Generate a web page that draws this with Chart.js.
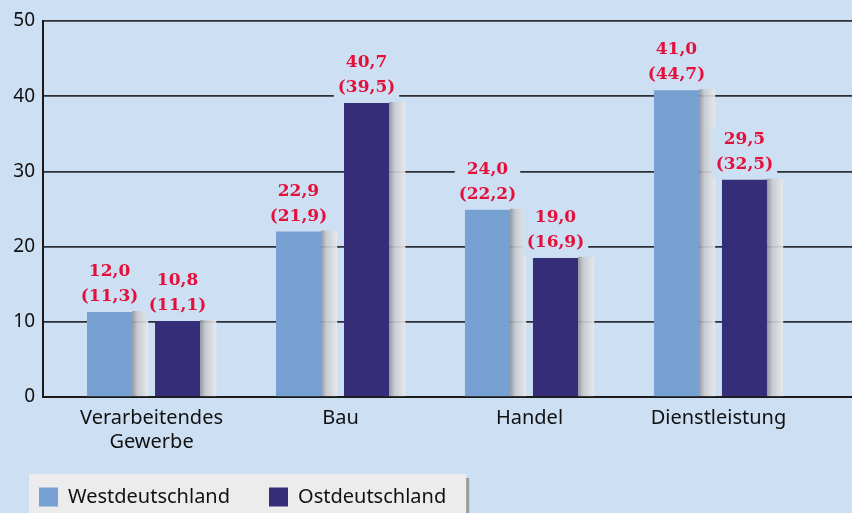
<!DOCTYPE html>
<html>
<head>
<meta charset="utf-8">
<script src="https://cdn.jsdelivr.net/npm/chart.js@4/dist/chart.umd.min.js"></script>
<style>
  html, body { margin: 0; padding: 0; background: #cddff3; }
  #wrap { width: 852px; height: 513px; }
</style>
</head>
<body>
<div id="wrap"><canvas id="c" width="852" height="513"></canvas></div>
<script>
// Daten
const categories = [['Verarbeitendes', 'Gewerbe'], 'Bau', 'Handel', 'Dienstleistung'];
const seriesNames = ['Westdeutschland', 'Ostdeutschland'];
const westValues = [11.3, 22.0, 24.9, 40.8];
const ostValues = [10.1, 39.1, 18.5, 28.9];
const westLabels = ['12,0', '22,9', '24,0', '41,0'];
const westLabelsPrev = ['(11,3)', '(21,9)', '(22,2)', '(44,7)'];
const ostLabels = ['10,8', '40,7', '19,0', '29,5'];
const ostLabelsPrev = ['(11,1)', '(39,5)', '(16,9)', '(32,5)'];
const yTicks = [0, 10, 20, 30, 40, 50];

const BG = '#cddff3';
const RED = '#e2103a';
const SANS = '"Noto Sans", "DejaVu Sans", sans-serif';
const SERIF = '"DejaVu Serif", "Liberation Serif", serif';

const toPoints = (vals) => vals.map((v, i) => ({ x: i, y: v }));

// Legende etwas hoeher setzen (eigener Abstand im Original)
const legendShiftPlugin = {
  id: 'legendShift',
  afterLayout(chart) {
    if (chart.legend) {
      chart.legend.top -= 7;
      chart.legend.bottom -= 7;
    }
  }
};

// Hintergrund + Legendenkasten
const backgroundPlugin = {
  id: 'background',
  beforeDraw(chart) {
    const ctx = chart.ctx;
    ctx.save();
    ctx.fillStyle = BG;
    ctx.fillRect(0, 0, chart.width, chart.height);
    const boxes = chart.legend && chart.legend.legendHitBoxes;
    if (boxes && boxes.length) {
      const first = boxes[0];
      const last = boxes[boxes.length - 1];
      const left = first.left - 10;
      const right = last.left + last.width + 20;
      const top = first.top - 13;
      ctx.fillStyle = '#ececec';
      ctx.fillRect(left, top, right - left, chart.height - top);
      ctx.fillStyle = '#9a9a9a';
      ctx.fillRect(right, top + 4, 3, chart.height - top);
    }
    ctx.restore();
  }
};

// 3D-Schatten rechts der Balken und Wertebeschriftung
const barDecorPlugin = {
  id: 'barDecor',
  afterDatasetsDraw(chart) {
    const ctx = chart.ctx;
    ctx.save();
    chart.data.datasets.forEach((ds, di) => {
      const meta = chart.getDatasetMeta(di);
      meta.data.forEach((bar) => {
        const right = bar.x + bar.width / 2;
        const w = bar.width * 0.36;
        const g = ctx.createLinearGradient(right, 0, right + w, 0);
        g.addColorStop(0, 'rgba(140,145,154,0.9)');
        g.addColorStop(0.35, 'rgba(200,203,208,0.9)');
        g.addColorStop(1, 'rgba(232,233,235,0.9)');
        ctx.fillStyle = g;
        ctx.fillRect(right, bar.y - 1, w, bar.base - bar.y + 1);
      });
    });
    chart.data.datasets.forEach((ds, di) => {
      const meta = chart.getDatasetMeta(di);
      meta.data.forEach((bar, i) => {
        const l1 = ds.topLabels[i];
        const l2 = ds.prevLabels[i];
        ctx.font = 'bold 17px ' + SERIF;
        const tw = Math.max(ctx.measureText(l1).width, ctx.measureText(l2).width);
        const b2 = bar.y - 11;
        const b1 = b2 - 25;
        ctx.fillStyle = BG;
        ctx.fillRect(bar.x - tw / 2 - 4, b1 - 17, tw + 8, bar.y - 2 - (b1 - 17));
        ctx.fillStyle = RED;
        ctx.textAlign = 'center';
        ctx.textBaseline = 'alphabetic';
        ctx.fillText(l1, bar.x, b1);
        ctx.fillText(l2, bar.x, b2);
      });
    });
    ctx.restore();
  }
};

new Chart(document.getElementById('c'), {
  type: 'bar',
  data: {
    datasets: [
      {
        label: seriesNames[0],
        data: toPoints(westValues),
        backgroundColor: '#77a1d3',
        topLabels: westLabels,
        prevLabels: westLabelsPrev
      },
      {
        label: seriesNames[1],
        data: toPoints(ostValues),
        backgroundColor: '#352d78',
        topLabels: ostLabels,
        prevLabels: ostLabelsPrev
      }
    ]
  },
  options: {
    responsive: false,
    animation: false,
    devicePixelRatio: 1,
    categoryPercentage: 0.72,
    barPercentage: 0.662,
    layout: { padding: { left: 0, right: 0, top: 21, bottom: -11 } },
    scales: {
      x: {
        type: 'linear',
        offset: false,
        min: -0.532,
        max: 3.749,
        grid: { display: false },
        border: { display: true, color: '#1a1a1a', width: 2 },
        ticks: {
          stepSize: 1,
          includeBounds: false,
          autoSkip: false,
          maxRotation: 0,
          padding: 1,
          labelOffset: 8,
          color: '#111',
          font: { family: SANS, size: 20 },
          callback: (v) => (Number.isInteger(v) && categories[v] !== undefined ? categories[v] : '')
        }
      },
      y: {
        min: 0,
        max: 50,
        afterBuildTicks: (scale) => { scale.ticks = yTicks.map((v) => ({ value: v })); },
        afterFit: (scale) => { scale.width = 43; },
        grid: { color: '#2c2f36', lineWidth: 1.7, drawTicks: false },
        border: { display: true, color: '#1a1a1a', width: 2 },
        ticks: {
          padding: 8,
          color: '#111',
          font: { family: SANS, size: 19 }
        }
      }
    },
    plugins: {
      legend: {
        position: 'bottom',
        align: 'start',
        labels: {
          boxWidth: 19,
          boxHeight: 19,
          padding: 39,
          color: '#111',
          font: { family: SANS, size: 20 }
        }
      },
      tooltip: { enabled: false }
    }
  },
  plugins: [legendShiftPlugin, backgroundPlugin, barDecorPlugin]
});
</script>
</body>
</html>
